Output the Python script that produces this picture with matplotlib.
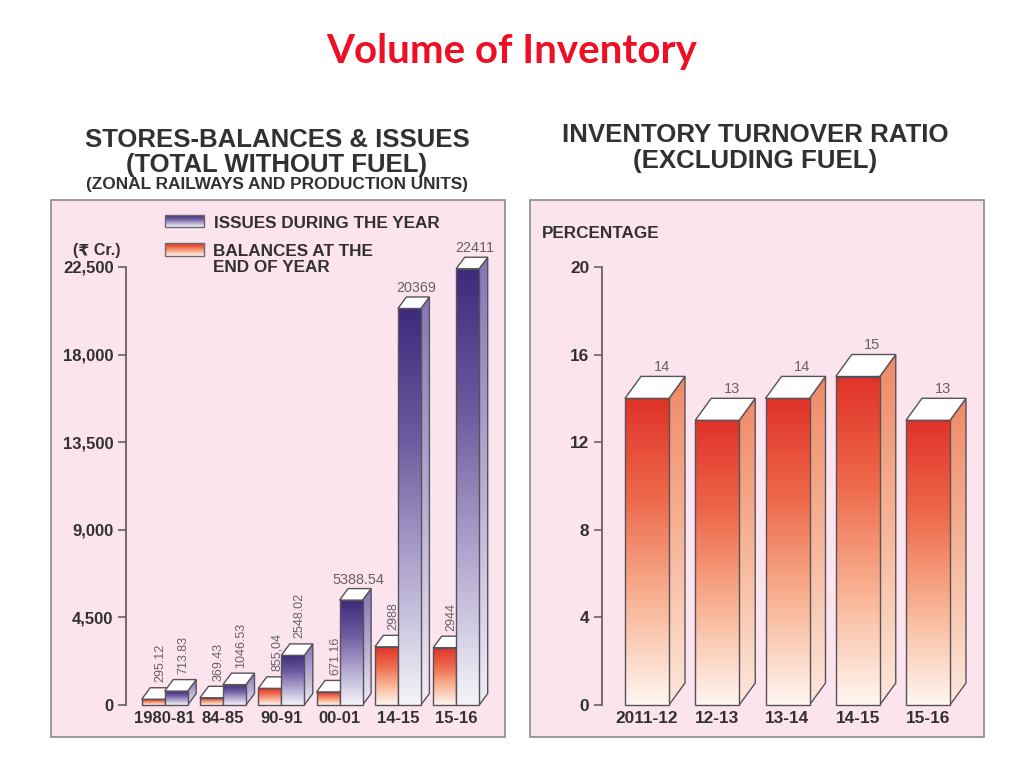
import numpy as np
import matplotlib
matplotlib.use("Agg")
import matplotlib.pyplot as plt
from matplotlib.patches import Polygon, Rectangle
from matplotlib.colors import LinearSegmentedColormap
from matplotlib.transforms import Affine2D

# ---- data ----
left_categories = ["1980-81", "84-85", "90-91", "00-01", "14-15", "15-16"]
balances = [295.12, 369.43, 855.04, 671.16, 2988, 2944]
issues = [713.83, 1046.53, 2548.02, 5388.54, 20369, 22411]
balance_labels = ["295.12", "369.43", "855,04", "671.16", "2988", "2944"]
issue_labels = ["713.83", "1046.53", "2548.02", "5388.54", "20369", "22411"]
left_ticks = [0, 4500, 9000, 13500, 18000, 22500]
left_ticklabels = ["0", "4,500", "9,000", "13,500", "18,000", "22,500"]

right_categories = ["2011-12", "12-13", "13-14", "14-15", "15-16"]
turnover = [14, 13, 14, 15, 13]
right_ticks = [0, 4, 8, 12, 16, 20]

# ---- styling ----
W, H = 1024, 768
FONT = ["Liberation Sans", "DejaVu Sans"]
PANEL = "#fce4ee"
EDGE = "#57525a"
TXT = "#333033"
GREY = "#666266"
cm_red = LinearSegmentedColormap.from_list("r", ["#e03228", "#ee6a4c", "#f9b596", "#fff6f1"])
cm_red_side = LinearSegmentedColormap.from_list("rs", ["#ef8a66", "#f6b698", "#fde8dc"])
cm_blue = LinearSegmentedColormap.from_list("b", ["#3d2a7c", "#6d5c9f", "#b3a9d0", "#f6f4fa"])
cm_blue_side = LinearSegmentedColormap.from_list("bs", ["#8576b4", "#b6add2", "#f0edf6"])
grad = np.linspace(0, 1, 256).reshape(-1, 1)

fig = plt.figure(figsize=(W / 100, H / 100), dpi=100, facecolor="white")
px = Affine2D().scale(1, -1).translate(0, H)  # top-left pixel frame, for page furniture


def make_panel(x0, x1, y0, y1, base_px, top_px, vmax, orig_px, unit_px, spine_px):
    fig.add_artist(Rectangle((x0, y0), x1 - x0, y1 - y0, transform=px, fc=PANEL, ec="#8c888c", lw=1.2, zorder=-5))
    ax = fig.add_axes([x0 / W, (H - y1) / H, (x1 - x0) / W, (y1 - y0) / H])
    ax.patch.set_visible(False)
    ys = vmax / (base_px - top_px)
    ax.set_xlim((x0 - orig_px) / unit_px, (x1 - orig_px) / unit_px)
    ax.set_ylim((base_px - y1) * ys, (base_px - y0) * ys)
    for s in ("top", "right"):
        ax.spines[s].set_visible(False)
    ax.spines["bottom"].set_position(("data", 0))
    ax.spines["bottom"].set_visible(False)
    ax.spines["left"].set_position(("data", (spine_px - orig_px) / unit_px))
    ax.spines["left"].set_bounds(0, vmax)
    ax.spines["left"].set_color(GREY)
    ax.spines["left"].set_linewidth(1.3)
    return ax, ys


_z = [2.0]


def bar3d(ax, x, w, v, dx, dy, cm, cm_side, xlim, ylim):
    z = _z[0]
    _z[0] += 0.1
    bb = [(x + w, 0), (x + w + dx, dy), (x + w + dx, v + dy), (x + w, v)]
    side = Polygon(bb, closed=True, fc="none", ec=EDGE, lw=1.0, zorder=z + 0.01)
    ax.add_patch(side)
    im = ax.imshow(grad, cmap=cm_side, aspect="auto", zorder=z, extent=(x + w, x + w + dx, 0, v + dy))
    im.set_clip_path(side)
    ax.imshow(grad, cmap=cm, aspect="auto", zorder=z + 0.02, extent=(x, x + w, 0, v))
    ax.add_patch(Rectangle((x, 0), w, v, fc="none", ec=EDGE, lw=1.0, zorder=z + 0.03))
    ax.add_patch(Polygon([(x, v), (x + dx, v + dy), (x + w + dx, v + dy), (x + w, v)],
                         closed=True, fc="white", ec=EDGE, lw=1.0, zorder=z + 0.04))
    ax.set_xlim(xlim)
    ax.set_ylim(ylim)


def page_text(x, y, s, size, **kw):
    kw.setdefault("color", TXT)
    kw.setdefault("fontweight", "bold")
    kw.setdefault("family", FONT)
    kw.setdefault("ha", "center")
    fig.text(x, y, s, transform=px, fontsize=size, va="center", **kw)


# ---- title and headers ----
page_text(512, 52, "Volume of Inventory", 29, color="#ee0f25", family=["Lato", "DejaVu Sans"])
page_text(277, 140, "STORES-BALANCES & ISSUES", 18.5)
page_text(277, 165, "(TOTAL WITHOUT FUEL)", 18.5)
page_text(277, 185, "(ZONAL RAILWAYS AND PRODUCTION UNITS)", 12.4)
page_text(755, 135, "INVENTORY TURNOVER RATIO", 18.6)
page_text(755, 161, "(EXCLUDING FUEL)", 18.6)

# ---- left panel ----
L_UNIT = 58.3
ax1, ys1 = make_panel(51, 505, 200, 737, 705, 267, left_ticks[-1], 141.7, L_UNIT, 126)
xl, yl = ax1.get_xlim(), ax1.get_ylim()
w1 = 23 / L_UNIT
dx1, dy1 = 8.5 / L_UNIT, 11.5 * ys1
x1 = np.arange(len(left_categories))
for i in x1:
    bar3d(ax1, i, w1, balances[i], dx1, dy1, cm_red, cm_red_side, xl, yl)
    bar3d(ax1, i + w1, w1, issues[i], dx1, dy1, cm_blue, cm_blue_side, xl, yl)
    ax1.annotate(balance_labels[i], (i + w1 / 2, balances[i] + dy1), xytext=(5, 4), textcoords="offset points",
                 rotation=90, ha="center", va="bottom", fontsize=9, color=GREY, family=FONT, zorder=5)
    tall = issues[i] > 5000
    ax1.annotate(issue_labels[i], (i + 1.5 * w1, issues[i] + dy1), xytext=(5, 1.5 if tall else 4),
                 textcoords="offset points", rotation=0 if tall else 90, ha="center", va="bottom",
                 fontsize=10.4 if tall else 9, color=GREY, family=FONT, zorder=5)
ax1.set_yticks(left_ticks, left_ticklabels)
ax1.set_xticks(x1 + w1, left_categories)
ax1.tick_params(axis="y", length=6, width=1.2, color=GREY, pad=3)
ax1.tick_params(axis="x", length=0, pad=4.5)
for t in ax1.get_yticklabels() + ax1.get_xticklabels():
    t.set(fontsize=12, fontweight="bold", color=TXT, family=FONT)
page_text(97, 251, "(₹ Cr.)", 11.5)

# legend
for (top, bot, cm) in [(215, 227, cm_blue), (243, 256, cm_red)]:
    im = ax1.imshow(grad, cmap=cm, aspect="auto", zorder=4, extent=(165, 204, bot, top))
    im.set_transform(px)
    fig.add_artist(Rectangle((165, top), 39, bot - top, transform=px, fc="none", ec="#6c686c", lw=1.0))
ax1.set_xlim(xl)
ax1.set_ylim(yl)
page_text(214, 223, "ISSUES DURING THE YEAR", 12.3, ha="left")
page_text(213, 251, "BALANCES AT THE", 12.3, ha="left")
page_text(213, 268, "END OF YEAR", 12.3, ha="left")

# ---- right panel ----
R_UNIT = 70.25
ax2, ys2 = make_panel(530, 984, 200, 737, 705, 267, right_ticks[-1], 625, R_UNIT, 602)
xl, yl = ax2.get_xlim(), ax2.get_ylim()
w2 = 44 / R_UNIT
dx2, dy2 = 16 / R_UNIT, 22 * ys2
x2 = np.arange(len(right_categories))
for i in x2:
    bar3d(ax2, i, w2, turnover[i], dx2, dy2, cm_red, cm_red_side, xl, yl)
    ax2.annotate(str(turnover[i]), (i + w2 / 2 + dx2, turnover[i] + dy2), xytext=(-1, 1.5),
                 textcoords="offset points", ha="center", va="bottom", fontsize=10.5, color=GREY, family=FONT)
ax2.set_yticks(right_ticks, [str(t) for t in right_ticks])
ax2.set_xticks(x2 + w2 / 2, right_categories)
ax2.tick_params(axis="y", length=6, width=1.2, color=GREY, pad=3)
ax2.tick_params(axis="x", length=0, pad=4.5)
for t in ax2.get_yticklabels() + ax2.get_xticklabels():
    t.set(fontsize=12.4, fontweight="bold", color=TXT, family=FONT)
page_text(542, 234, "PERCENTAGE", 12.3, ha="left")

fig.savefig("out.png", dpi=100)
